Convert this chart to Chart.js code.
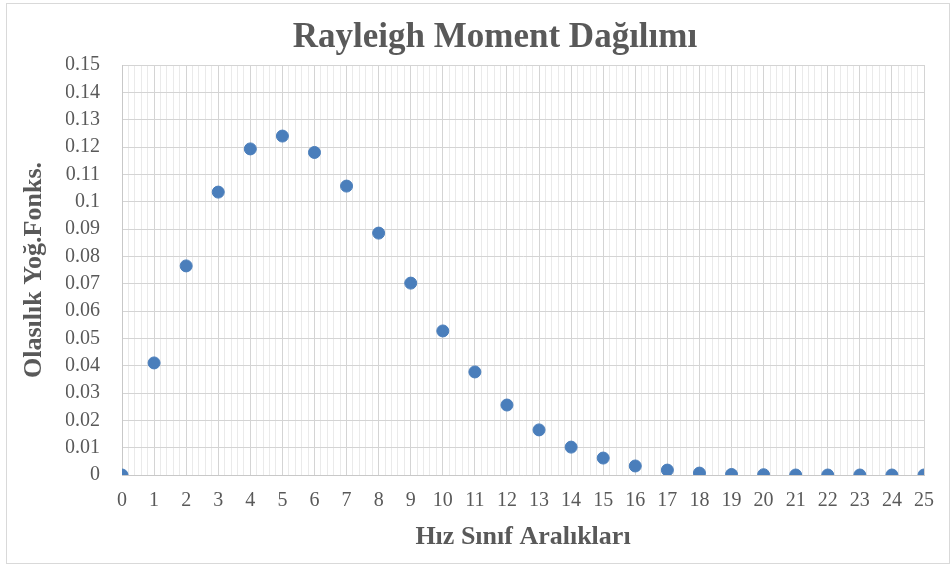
<!DOCTYPE html>
<html>
<head>
<meta charset="utf-8">
<script src="https://cdn.jsdelivr.net/npm/chart.js@4"></script>
<style>
  body { margin: 0; background: #fff; }
  #wrap { position: relative; width: 951px; height: 568px; }
  #frame { position: absolute; left: 6px; top: 3px; width: 942px; height: 559px; border: 1px solid #d9d9d9; pointer-events: none; }
</style>
</head>
<body>
<div id="wrap">
  <canvas id="myChart" width="951" height="568"></canvas>
  <div id="frame"></div>
</div>
<script>
const titleText = 'Rayleigh Moment Dağılımı';
const xTitle = 'Hız Sınıf Aralıkları';
const yTitle = 'Olasılık Yoğ.Fonks.';
const speedClasses = [0, 1, 2, 3, 4, 5, 6, 7, 8, 9, 10, 11, 12, 13, 14, 15, 16, 17, 18, 19, 20, 21, 22, 23, 24, 25];
const density = [0, 0.041, 0.0765, 0.1035, 0.1193, 0.124, 0.118, 0.1057, 0.0885, 0.0702, 0.0527, 0.0377,
  0.0256, 0.0165, 0.0102, 0.0062, 0.0033, 0.0018, 0.0007, 0.0002, 0.0001, 0, 0, 0, 0, 0];

const serif = '"Liberation Serif", "Times New Roman", serif';
const textGray = '#595959';

const points = speedClasses.map((x, i) => ({ x: x, y: density[i] }));
const isWhole = v => Math.abs(v - Math.round(v)) < 1e-6;

const ctx = document.getElementById('myChart').getContext('2d');
new Chart(ctx, {
  type: 'scatter',
  data: {
    datasets: [{
      data: points,
      backgroundColor: '#4a7ebb',
      borderColor: '#4a7ebb',
      pointRadius: 6,
      pointHoverRadius: 6
    }]
  },
  options: {
    responsive: false,
    animation: false,
    // big left padding shifts the main title right, like the original
    layout: { padding: { left: 66, right: 27, top: 0, bottom: 8 } },
    plugins: {
      legend: { display: false },
      tooltip: { enabled: false },
      title: {
        display: true,
        text: titleText,
        color: textGray,
        font: { family: serif, size: 35, weight: 'bold' },
        padding: { top: 17, bottom: 6 }
      }
    },
    scales: {
      x: {
        type: 'linear',
        min: 0,
        max: 25,
        ticks: {
          stepSize: 0.2,
          autoSkip: false,
          maxRotation: 0,
          padding: 14,
          color: textGray,
          font: { family: serif, size: 20 },
          callback: v => isWhole(v) ? String(Math.round(v)) : ''
        },
        grid: {
          drawTicks: false,
          color: c => isWhole(c.tick.value) ? '#d4d4d4' : '#eaeaea'
        },
        border: { color: '#c8c8c8' },
        title: {
          display: true,
          text: xTitle,
          color: textGray,
          font: { family: serif, size: 26, weight: 'bold' },
          padding: { top: 0, bottom: 7 }
        },
        afterFit: s => { s.height = 85; }
      },
      y: {
        min: 0,
        max: 0.15,
        ticks: {
          stepSize: 0.01,
          padding: 22,
          color: textGray,
          font: { family: serif, size: 20 },
          callback: v => String(+v.toFixed(2))
        },
        grid: { drawTicks: false, color: '#d4d4d4' },
        border: { color: '#c8c8c8' },
        title: {
          display: true,
          text: yTitle,
          color: textGray,
          font: { family: serif, size: 26, weight: 'bold' },
          padding: { top: -47, bottom: 0 }
        },
        afterFit: s => { s.width = 56; }
      }
    }
  }
});
</script>
</body>
</html>
